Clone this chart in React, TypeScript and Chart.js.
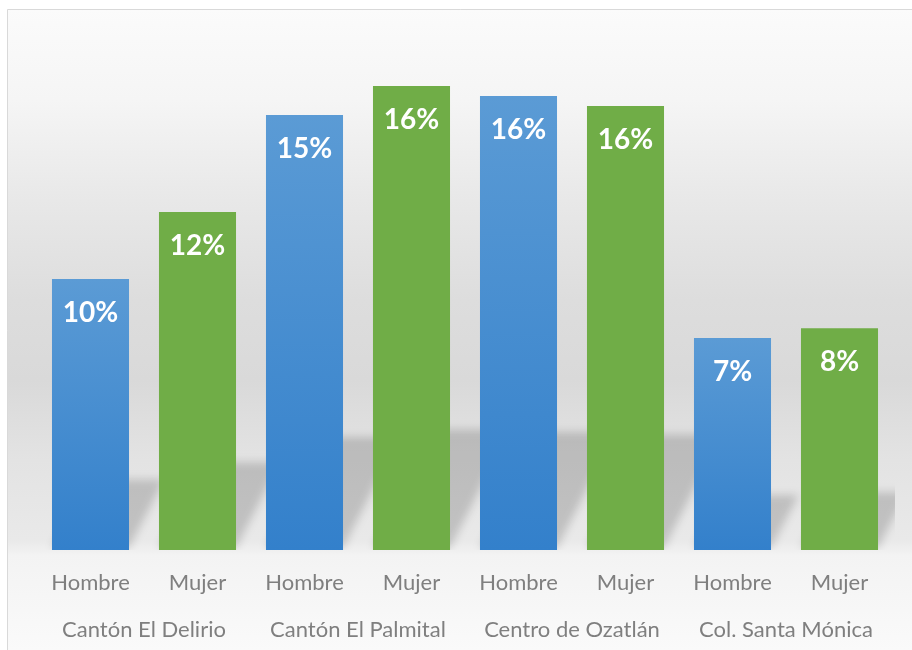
import React, { useEffect, useRef } from "react";
import { Chart, registerables } from "chart.js";

Chart.register(...registerables);

const categories = ["Hombre", "Mujer", "Hombre", "Mujer", "Hombre", "Mujer", "Hombre", "Mujer"];
const groups = ["Cantón El Delirio", "Cantón El Palmital", "Centro de Ozatlán", "Col. Santa Mónica"];
const values = [0.0953, 0.1188, 0.1529, 0.1631, 0.1596, 0.1561, 0.0745, 0.078];
const valueLabels = ["10%", "12%", "15%", "16%", "16%", "16%", "7%", "8%"];

const BLUE_TOP = "#5b9bd5";
const BLUE_BOTTOM = "#3380cb";
const GREEN = "#70ad47";
const TICK_COLOR = "#7f7f7f";

const backgroundPlugin = {
  id: "cardBackground",
  beforeDraw(chart: any) {
    const { ctx, width, height } = chart;
    ctx.save();
    ctx.fillStyle = "#ffffff";
    ctx.fillRect(0, 0, width, height);
    const top = 9;
    const g = ctx.createLinearGradient(0, top, 0, height);
    const stops: [number, string][] = [
      [0, "#fbfbfb"],
      [0.142, "#f5f5f5"],
      [0.298, "#e8e8e8"],
      [0.454, "#dddddd"],
      [0.579, "#d9d9d9"],
      [0.641, "#dedede"],
      [0.704, "#e3e3e3"],
      [0.828, "#e9e9e9"],
      [0.853, "#f3f3f3"],
      [1, "#fafafa"],
    ];
    stops.forEach(([o, c]) => g.addColorStop(o, c));
    ctx.fillStyle = g;
    ctx.fillRect(7.5, top + 0.5, width, height);
    ctx.strokeStyle = "#d9d9d9";
    ctx.lineWidth = 1;
    ctx.beginPath();
    ctx.moveTo(7.5, height + 2);
    ctx.lineTo(7.5, top + 0.5);
    ctx.lineTo(width + 2, top + 0.5);
    ctx.stroke();
    ctx.restore();
  },
};

const shadowPlugin = {
  id: "barShadow",
  beforeDatasetsDraw(chart: any) {
    const { ctx, chartArea } = chart;
    const meta = chart.getDatasetMeta(0);
    ctx.save();
    ctx.beginPath();
    ctx.rect(chartArea.left - 10, chartArea.top, chartArea.right - chartArea.left + 12, chartArea.bottom - chartArea.top);
    ctx.clip();
    ctx.filter = "blur(4px)";
    ctx.fillStyle = "rgba(0,0,0,0.17)";
    ctx.beginPath();
    meta.data.forEach((el: any) => {
      const p = el.getProps(["x", "y", "base", "width"], true);
      const x0 = p.x - p.width / 2;
      const x1 = p.x + p.width / 2;
      const h = p.base - p.y;
      const sh = 0.26 * h;
      const sx = sh / 2.0;
      ctx.moveTo(x0, p.base - 2);
      ctx.lineTo(x1, p.base - 2);
      ctx.lineTo(x1 + sx, p.base - sh);
      ctx.lineTo(x0 + sx, p.base - sh);
      ctx.closePath();
    });
    ctx.fill("nonzero");
    ctx.restore();
  },
};

const labelPlugin = {
  id: "valueLabels",
  afterDatasetsDraw(chart: any) {
    const { ctx } = chart;
    const meta = chart.getDatasetMeta(0);
    ctx.save();
    ctx.fillStyle = "#ffffff";
    ctx.font = "bold 28px Lato";
    ctx.textAlign = "center";
    ctx.textBaseline = "alphabetic";
    meta.data.forEach((el: any, i: number) => {
      const p = el.getProps(["x", "y"], true);
      ctx.fillText(valueLabels[i], p.x, p.y + 43);
    });
    ctx.restore();
  },
};

export default function App() {
  const ref = useRef<HTMLCanvasElement | null>(null);

  useEffect(() => {
    if (!ref.current) return;
    const chart = new Chart(ref.current, {
      type: "bar",
      data: {
        labels: categories,
        datasets: [
          {
            data: values,
            backgroundColor: (c: any) => {
              if (c.type !== "data") return BLUE_TOP;
              if (c.dataIndex % 2 === 1) return GREEN;
              const ch = c.chart;
              const y = ch.scales && ch.scales.y;
              if (!ch.chartArea || !y) return BLUE_TOP;
              const yTop = y.getPixelForValue(values[c.dataIndex]);
              const yBase = y.getPixelForValue(0);
              const g = ch.ctx.createLinearGradient(0, yTop, 0, yBase);
              g.addColorStop(0, BLUE_TOP);
              g.addColorStop(1, BLUE_BOTTOM);
              return g;
            },
            borderWidth: 0,
            barPercentage: 0.72,
            categoryPercentage: 1,
          },
        ],
      },
      options: {
        responsive: false,
        animation: false,
        layout: { padding: { left: 37, right: 19, top: 38, bottom: 0 } },
        plugins: {
          legend: { display: false },
          tooltip: { enabled: false },
        },
        scales: {
          y: {
            display: false,
            min: 0,
            max: 0.18,
          },
          x: {
            position: "bottom",
            weight: 0,
            grid: { display: false, drawTicks: false },
            border: { display: false },
            ticks: {
              color: TICK_COLOR,
              font: { family: "Lato", size: 22 },
              padding: 20,
              maxRotation: 0,
              autoSkip: false,
            },
            afterFit: (s: any) => {
              s.height = 47;
            },
          },
          x2: {
            type: "category",
            labels: groups,
            position: "bottom",
            weight: 1,
            offset: true,
            grid: { display: false, drawTicks: false },
            border: { display: false },
            ticks: {
              color: TICK_COLOR,
              font: { family: "Lato", size: 22 },
              padding: 20,
              maxRotation: 0,
              autoSkip: false,
            },
            afterFit: (s: any) => {
              s.height = 53;
            },
          },
        },
      } as any,
      plugins: [backgroundPlugin, shadowPlugin, labelPlugin],
    });
    return () => chart.destroy();
  }, []);

  return (
    <div style={{ position: "fixed", left: 0, top: 0, width: 912, height: 650 }}>
      <canvas ref={ref} width={912} height={650} style={{ display: "block" }} />
    </div>
  );
}
